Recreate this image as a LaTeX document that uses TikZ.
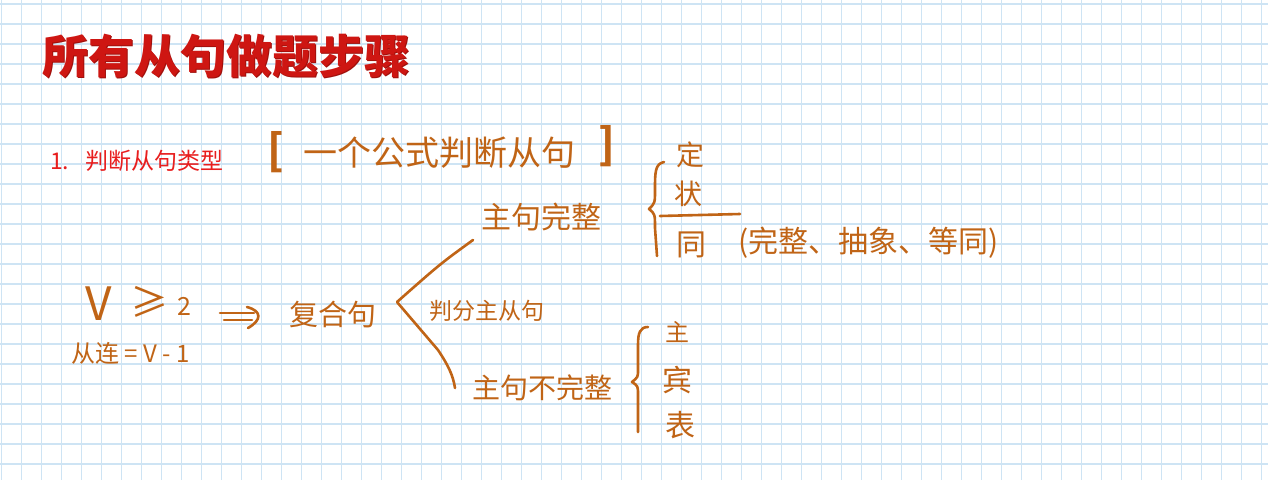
\documentclass[tikz,border=0pt]{standalone}
\usepackage{fontspec}
\newfontfamily\cjk{Noto Sans CJK SC}
\newcommand\fsz[1]{\fontsize{#1}{#1}\selectfont}
\definecolor{gridblue}{RGB}{206,228,244}
\definecolor{titlered}{RGB}{206,22,18}
\definecolor{titleshadow}{RGB}{160,16,12}
\definecolor{itemred}{RGB}{232,30,30}
\definecolor{hw}{RGB}{192,100,22}
\begin{document}
\begin{tikzpicture}[x=1pt,y=-1pt,
  hwtext/.style={text=hw,inner sep=0pt},
  hwline/.style={draw=hw,line width=2.6pt,line cap=round,line join=round},
  gridline/.style={draw=gridblue,line width=1.1pt}]
\useasboundingbox (0,0) rectangle (1268,480);
\fill[white] (0,0) rectangle (1268,480);
\foreach \i in {0,...,63} \draw[gridline] ({1.7+20*\i},0) -- ({1.7+20*\i},480);
\foreach \j in {0,...,23} \draw[gridline] (0,{4+20*\j}) -- (1268,{4+20*\j});

% title
\node[anchor=west,inner sep=0pt,text=titleshadow,font=\cjk\bfseries\fsz{46}] (titleshadow) at (42.8,56.8) {所有从句做题步骤};
\node[anchor=west,inner sep=0pt,text=titlered,font=\cjk\bfseries\fsz{46}] (title) at (42,56) {所有从句做题步骤};

% item
\node[anchor=west,inner sep=0pt,text=itemred,font=\cjk\fsz{23}] (item) at (50,161) {\makebox[35pt][l]{1.}判断从句类型};

% handwritten texts
\node[hwtext,font=\cjk\bfseries\fsz{42}] (lb) at (276,152) {[};
\node[hwtext,font=\cjk\fsz{34},anchor=west] (formula) at (303,153) {一个公式判断从句};
\node[hwtext,font=\cjk\bfseries\fsz{42}] (rb) at (607,146) {]};

\node[hwtext,font=\cjk\fsz{28}] (ding) at (690,155) {定};
\node[hwtext,font=\cjk\fsz{28}] (zhuang) at (688,194) {状};
\node[hwtext,font=\cjk\fsz{30}] (tong) at (691,245) {同};
\node[hwtext,font=\cjk\fsz{30},anchor=west] (tongnote) at (738,243) {(完整、抽象、等同)};

\node[hwtext,font=\cjk\fsz{30},anchor=west] (zjwz) at (481,217) {主句完整};

\node[hwtext,font=\cjk\fsz{46}] (v) at (99,304) {V};
\node[hwtext,font=\cjk\fsz{38}] (ge) at (149,302) {≥};
\node[hwtext,font=\cjk\fsz{25}] (two) at (184,306) {2};
\node[hwtext,font=\cjk\fsz{24},anchor=west] (clj) at (71,353) {从连 = V - 1};

\node[hwtext,font=\cjk\fsz{29},anchor=west] (fhj) at (289,315) {复合句};
\node[hwtext,font=\cjk\fsz{23},anchor=west] (pfzc) at (429,311) {判分主从句};
\node[hwtext,font=\cjk\fsz{28},anchor=west] (zjbwz) at (472,388) {主句不完整};

\node[hwtext,font=\cjk\fsz{24}] (zhu) at (677,332) {主};
\node[hwtext,font=\cjk\fsz{30}] (bin) at (677,380) {宾};
\node[hwtext,font=\cjk\fsz{30}] (biao) at (680,425) {表};

% implies arrow
\coordinate (ia) at (220,313);
\coordinate (ib) at (254,313);
\coordinate (ic) at (224,320);
\coordinate (id) at (252,320);
\coordinate (ht) at (247,307);
\coordinate (hb) at (248,328);
\draw[hwline] (ia) -- (ib);
\draw[hwline] (ic) -- (id);
\draw[hwline] (ht) .. controls (262,311) and (262,320) .. (hb);

% branching bracket
\coordinate (tip) at (397,302);
\coordinate (cu) at (473,240);
\coordinate (cl) at (455,388);
\draw[hwline] (cu) .. controls (440,264) .. (tip) -- (438,350) .. controls (448,365) and (453,375) .. (cl);

% underline
\coordinate (ula) at (660,216);
\coordinate (ulb) at (740,214);
\draw[hwline] (ula) -- (ulb);

% braces
\draw[hwline] (664,162) .. controls (655,164) and (655,172) .. (655,190)
  .. controls (655,203) .. (649,209) .. controls (655,214) .. (655,228) -- (657,256);
\draw[hwline] (648,327) .. controls (640,327) and (638,333) .. (638,345) -- (638,370)
  .. controls (638,377) .. (632,382) .. controls (638,386) .. (638,395) -- (638,432);
\end{tikzpicture}
\end{document}
